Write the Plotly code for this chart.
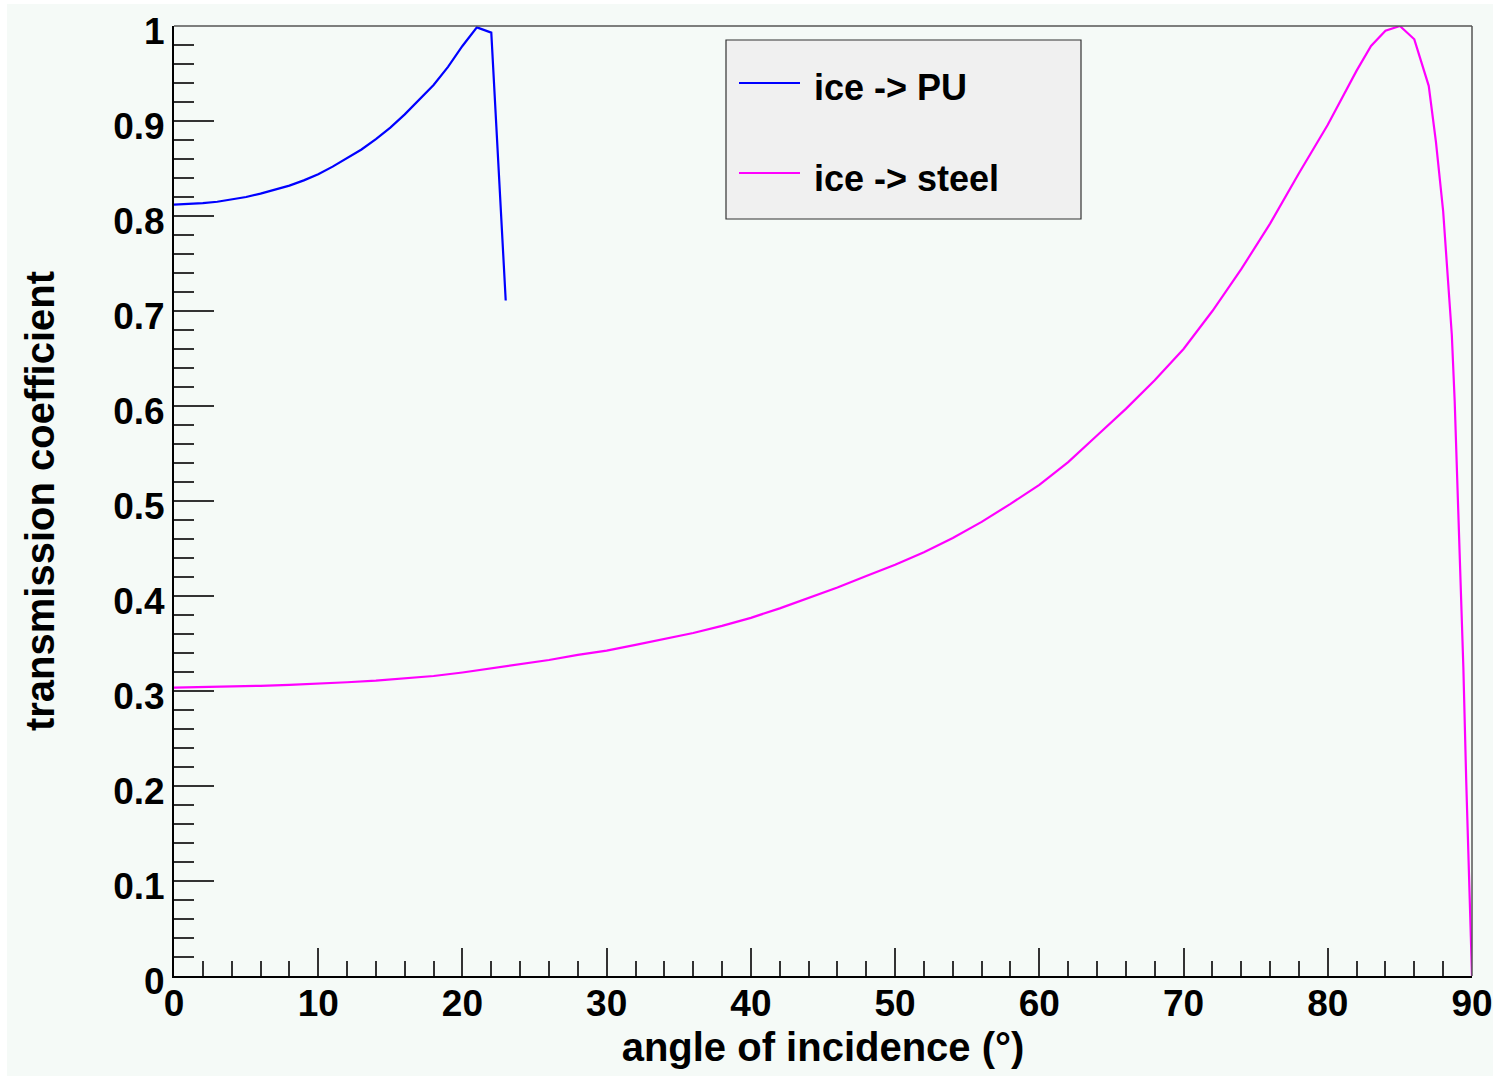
import plotly.graph_objects as go

# ---------------- data ----------------
angle_pu = [0, 1, 2, 3, 4, 5, 6, 7, 8, 9, 10, 11, 12, 13, 14, 15, 16, 17, 18, 19, 20, 21, 22, 23]
trans_pu = [0.812, 0.8125, 0.8135, 0.815, 0.8172, 0.820, 0.8235, 0.8275, 0.832, 0.8375,
            0.844, 0.852, 0.861, 0.870, 0.881, 0.893, 0.907, 0.922, 0.938, 0.957,
            0.979, 0.9985, 0.993, 0.711]

angle_steel = [0, 2, 4, 6, 8, 10, 12, 14, 16, 18, 20, 22, 24, 26, 28, 30, 32, 34, 36, 38,
               40, 42, 44, 46, 48, 50, 52, 54, 56, 58, 60, 62, 64, 66, 68, 70, 72, 74, 76, 78,
               80, 81, 82, 83, 84, 85, 86, 87, 87.5, 88, 88.2, 88.4, 88.6, 88.8, 89.0, 89.2,
               89.4, 89.6, 89.8, 90]
trans_steel = [0.3035, 0.304, 0.3046, 0.3055, 0.3065, 0.3077, 0.3092, 0.3109, 0.3132, 0.3158,
               0.3195, 0.3239, 0.328, 0.3326, 0.338, 0.3425, 0.3485, 0.3545, 0.361, 0.3685,
               0.377, 0.387, 0.398, 0.409, 0.421, 0.433, 0.446, 0.461, 0.478, 0.497,
               0.517, 0.541, 0.569, 0.597, 0.627, 0.660, 0.700, 0.744, 0.792, 0.845,
               0.896, 0.925, 0.953, 0.979, 0.995, 1.0, 0.986, 0.937, 0.878, 0.805,
               0.765, 0.722, 0.675, 0.605, 0.512, 0.428, 0.325, 0.205, 0.09, 0.0]

series_names = ["ice -> PU", "ice -> steel"]
series_colors = ["#0000ff", "#ff00ff"]

x_tickvals = [0, 10, 20, 30, 40, 50, 60, 70, 80, 90]
x_ticktext = ["0", "10", "20", "30", "40", "50", "60", "70", "80", "90"]
y_tickvals = [0, 0.1, 0.2, 0.3, 0.4, 0.5, 0.6, 0.7, 0.8, 0.9, 1.0]
y_ticktext = ["0", "0.1", "0.2", "0.3", "0.4", "0.5", "0.6", "0.7", "0.8", "0.9", "1"]

x_title = "angle of incidence (°)"
y_title = "transmission coefficient"

# ---------------- layout geometry ----------------
W, H = 1500, 1080
ML, MR, MT, MB = 174, 28, 26, 104
PW, PH = W - ML - MR, H - MT - MB


def px_x(px):
    return (px - ML) / PW


def px_y(py):
    return (H - MB - py) / PH


FONT = "Liberation Sans, Arial, Helvetica, sans-serif"
BG = "#f5faf7"

fig = go.Figure()
fig.add_trace(go.Scatter(x=angle_pu, y=trans_pu, mode="lines", name=series_names[0],
                         line=dict(color=series_colors[0], width=2.2), showlegend=False))
fig.add_trace(go.Scatter(x=angle_steel, y=trans_steel, mode="lines", name=series_names[1],
                         line=dict(color=series_colors[1], width=2.2), showlegend=False))

shapes = [
    # canvas area (inside a thin white frame)
    dict(type="rect", xref="paper", yref="paper", layer="below",
         x0=px_x(7), x1=px_x(1493), y0=px_y(1076), y1=px_y(4),
         fillcolor=BG, line=dict(width=0)),
    # top and right frame lines
    dict(type="line", xref="paper", yref="paper", x0=0, x1=1, y0=1, y1=1,
         line=dict(color="#555555", width=1.5)),
    dict(type="line", xref="paper", yref="paper", x0=1, x1=1, y0=0, y1=1,
         line=dict(color="#555555", width=1.5)),
    # legend box
    dict(type="rect", xref="paper", yref="paper",
         x0=px_x(726), x1=px_x(1081), y0=px_y(219), y1=px_y(40),
         fillcolor="#f0f0f0", line=dict(color="#333333", width=1.2)),
]
annotations = []
legend_rows = [83, 173]
for name, color, row in zip(series_names, series_colors, legend_rows):
    shapes.append(dict(type="line", xref="paper", yref="paper",
                       x0=px_x(739), x1=px_x(800), y0=px_y(row), y1=px_y(row),
                       line=dict(color=color, width=2)))
    annotations.append(dict(xref="paper", yref="paper", x=px_x(812), y=px_y(row + 5),
                            xanchor="left", yanchor="middle", showarrow=False,
                            text=name, font=dict(family=FONT, size=36, color="black",
                                                 weight="bold")))

fig.update_layout(
    width=W, height=H, autosize=False,
    margin=dict(l=ML, r=MR, t=MT, b=MB, pad=0),
    paper_bgcolor="white", plot_bgcolor=BG,
    shapes=shapes, annotations=annotations,
    showlegend=False,
    xaxis=dict(
        range=[0, 90], showgrid=False, zeroline=False,
        showline=True, linecolor="black", linewidth=2,
        tickmode="array", tickvals=x_tickvals, ticktext=x_ticktext,
        ticks="inside", ticklen=28, tickwidth=1.5, tickcolor="#333333",
        minor=dict(ticks="inside", dtick=2, ticklen=15, tickwidth=1.5,
                   tickcolor="#333333", showgrid=False),
        tickfont=dict(family=FONT, size=37, color="black", weight="bold"),
        ticklabelstandoff=-6,
        title=dict(text=x_title, standoff=10,
                   font=dict(family=FONT, size=40, color="black", weight="bold")),
        automargin=False,
    ),
    yaxis=dict(
        range=[0, 1], showgrid=False, zeroline=False,
        showline=True, linecolor="black", linewidth=2,
        tickmode="array", tickvals=y_tickvals, ticktext=y_ticktext,
        ticks="inside", ticklen=40, tickwidth=1.5, tickcolor="#333333",
        minor=dict(ticks="inside", dtick=0.02, ticklen=20, tickwidth=1.5,
                   tickcolor="#333333", showgrid=False),
        tickfont=dict(family=FONT, size=37, color="black", weight="bold"),
        ticklabelshift=5,
        title=dict(text=y_title, standoff=46,
                   font=dict(family=FONT, size=40, color="black", weight="bold")),
        automargin=False,
    ),
)

fig.write_html("out.html")
